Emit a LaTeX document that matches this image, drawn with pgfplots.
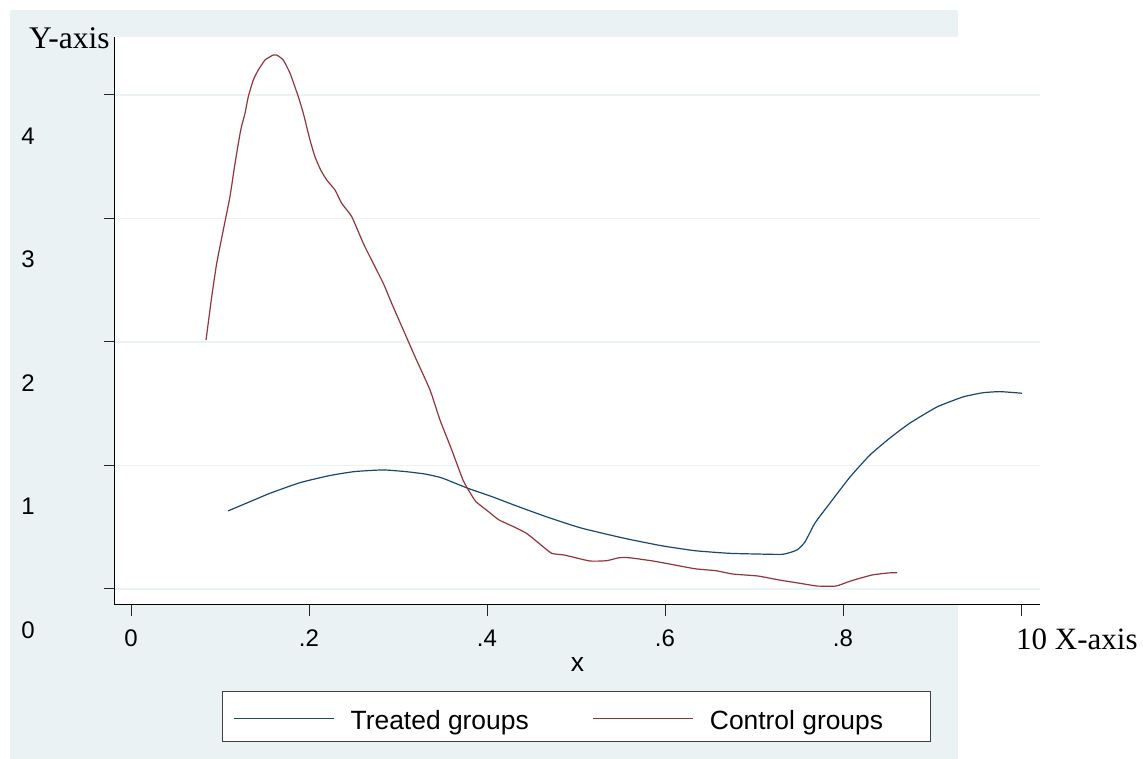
\documentclass[border=0pt]{standalone}
\usepackage{fontspec}
\setmainfont{Liberation Sans}
\newfontfamily\serifrm{Liberation Serif}
\usepackage{pgfplots}
\usepackage{pgfplotstable}
\pgfplotsset{compat=1.18}
\definecolor{bgc}{RGB}{234,242,243}
\definecolor{gridc}{RGB}{234,242,243}
\definecolor{treat}{RGB}{26,71,111}
\definecolor{ctrl}{RGB}{144,53,59}

\pgfplotstableread{
x y
0.1090 0.632
0.1337 0.707
0.1562 0.775
0.1899 0.861
0.2236 0.919
0.2517 0.951
0.2831 0.964
0.3079 0.951
0.3303 0.931
0.3494 0.899
0.3775 0.818
0.4067 0.745
0.4303 0.680
0.4674 0.583
0.5056 0.494
0.5528 0.413
0.5955 0.351
0.6337 0.310
0.6719 0.289
0.7045 0.283
0.7326 0.281
0.7483 0.316
0.7573 0.381
0.7685 0.534
0.7854 0.696
0.8079 0.907
0.8303 1.085
0.8528 1.223
0.8753 1.344
0.9056 1.474
0.9348 1.555
0.9573 1.589
0.9764 1.598
1.0011 1.585
}\treated

\pgfplotstableread{
x y
0.0843 2.016
0.0907 2.367
0.0963 2.637
0.1037 2.907
0.1112 3.177
0.1169 3.447
0.1233 3.717
0.1281 3.852
0.1318 3.986
0.1374 4.121
0.1430 4.202
0.1506 4.283
0.1599 4.324
0.1637 4.324
0.1711 4.283
0.1787 4.176
0.1880 3.986
0.1936 3.852
0.2011 3.636
0.2067 3.500
0.2131 3.393
0.2199 3.312
0.2292 3.231
0.2367 3.123
0.2480 3.015
0.2610 2.799
0.2722 2.637
0.2835 2.475
0.2929 2.313
0.3060 2.097
0.3199 1.868
0.3360 1.611
0.3472 1.368
0.3590 1.152
0.3730 0.883
0.3803 0.788
0.3876 0.707
0.4017 0.626
0.4135 0.559
0.4300 0.504
0.4443 0.451
0.4584 0.370
0.4726 0.289
0.4869 0.275
0.5153 0.227
0.5342 0.229
0.5483 0.253
0.5602 0.253
0.5862 0.227
0.6052 0.202
0.6336 0.164
0.6573 0.148
0.6762 0.121
0.7045 0.105
0.7281 0.073
0.7517 0.046
0.7708 0.024
0.7921 0.024
0.8087 0.065
0.8324 0.113
0.8512 0.130
0.8607 0.132
}\control

\begin{document}
\begin{tikzpicture}[x=1pt,y=1pt]
\useasboundingbox (0,0) rectangle (1143,759);
\fill[bgc] (10,0) rectangle (958,749);
\filldraw[fill=white, draw=black!75, line width=1pt] (222,17) rectangle (930,67);
\begin{axis}[
  at={(115pt,154pt)}, anchor=south west,
  width=925pt, height=568pt, scale only axis,
  xmin=-0.01798, xmax=1.02135, ymin=-0.1296, ymax=4.4696,
  axis x line=bottom, axis y line=left,
  axis line style={line width=1pt, black, -},
  axis background/.style={fill=white},
  xtick={0,0.2,0.4,0.6,0.8,1}, xticklabels={0,.2,.4,.6,.8,{}},
  ytick={0,1,2,3,4}, yticklabels={0,1,2,3,4},
  tick align=outside, major tick length=11pt,
  tick style={line width=1pt, black!85},
  ymajorgrids, grid style={gridc, line width=1.3pt},
  tick label style={font=\fontsize{24}{28}\selectfont, inner sep=0pt},
  yticklabel style={anchor=east, xshift=-69pt, yshift=-41pt},
  xticklabel style={anchor=north, yshift=-14pt},
  xlabel={x},
  xlabel style={at={(axis description cs:0.5,0)}, anchor=base, yshift=-67pt, font=\fontsize{26.4}{30}\selectfont},
  ylabel={Y-axis},
  every axis y label/.style={at={(axis description cs:-0.09297,0.97887)}, anchor=base west, inner sep=0pt, font=\serifrm\fontsize{31.5}{36}\selectfont},
  legend columns=2,
  legend style={draw=none, fill=none, inner sep=0pt, outer sep=0pt,
    at={(axis description cs:0.1281,-0.2030)}, anchor=west,
    font=\fontsize{26.4}{30}\selectfont, nodes={inner sep=0pt},
    column sep=16pt, /tikz/every even column/.append style={column sep=64pt}},
  legend image code/.code={\draw[#1] (0pt,2pt) -- (100pt,2pt);},
]
\addplot[treat, line width=1.2pt, smooth, tension=0.3] table[x=x,y=y] {\treated};
\addlegendentry{Treated groups}
\addplot[ctrl, line width=1.2pt, smooth, tension=0.3] table[x=x,y=y] {\control};
\addlegendentry{Control groups}
\end{axis}
\node[anchor=base west, inner sep=0pt, font=\serifrm\fontsize{31}{36}\selectfont] at (1016,109) {10 X-axis};
\end{tikzpicture}
\end{document}
